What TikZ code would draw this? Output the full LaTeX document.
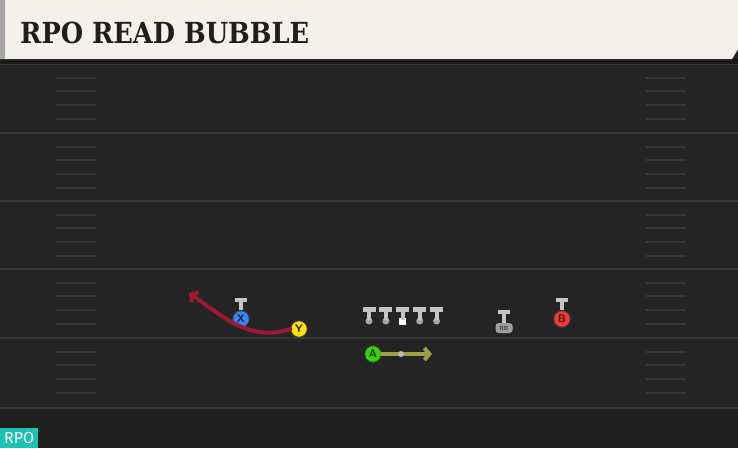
\documentclass[tikz,border=0pt]{standalone}
\usepackage{fontspec}
\usepackage{xcolor}
\usepackage{tikz}
\usetikzlibrary{arrows.meta, positioning, shapes}
\newfontfamily\titleFont{DejaVuSerif-Bold.ttf}[FakeStretch=0.885]
\newfontfamily\tagFont{Fira Sans}
\definecolor{fieldColor}{HTML}{242424}
\definecolor{endColor}{HTML}{1F1F1F}
\definecolor{yardColor}{HTML}{393939}
\definecolor{hashColor}{HTML}{363636}
\definecolor{bannerColor}{HTML}{F4F1EA}
\definecolor{capColor}{HTML}{C4C4C4}
\definecolor{routeRed}{HTML}{9B1B35}
\definecolor{routeOlive}{HTML}{A09C48}
\definecolor{tagColor}{HTML}{1DC2B2}

\begin{document}
\begin{tikzpicture}[x=1pt, y=-1pt,
        player/.style={circle, draw=black!75, line width=0.9pt, minimum size=16.5pt, inner sep=0pt, font=\sffamily\bfseries\fontsize{11}{11}\selectfont, text=black!85},
        olDot/.style={circle, fill=gray!70, minimum size=7pt, inner sep=0pt},
        route/.style={line width=4pt, line cap=round}]
    \useasboundingbox (0,0) rectangle (738,448);
    \fill[fieldColor] (0,0) rectangle (738,448);
    \fill[endColor] (0,408) rectangle (738,448);
    % yard lines and hashes
    \foreach \y in {64,133,201,269,338,408} {
        \draw[yardColor, line width=1.6pt] (0,\y) -- (738,\y);
    }
    \foreach \y in {64,133,201,269,338} {
        \foreach \d in {14,27,41,55} {
            \draw[hashColor, line width=1.5pt] (56,\y+\d) -- (96,\y+\d);
            \draw[hashColor, line width=1.5pt] (646,\y+\d) -- (686,\y+\d);
        }
    }
    % banner
    \fill[black!90] (0,59) rectangle (738,64);
    \fill[bannerColor] (0,0) -- (738,0) -- (738,49) -- (732,59) -- (0,59) -- cycle;
    \fill[gray!70] (0,0) rectangle (5,59);
    \node[anchor=base west, inner sep=0pt, font=\titleFont\fontsize{29}{29}\selectfont, text=black!88] (title) at (20,43) {RPO READ BUBBLE};

    % players
    \node[player, fill=blue!60!cyan!80!white] (X) at (241,319) {X};
    \node[player, fill=yellow!85!orange] (Y) at (299,329) {Y};
    \node[player, fill=green!70!lime!85!black] (A) at (373,354) {A};
    \node[player, fill=red!80!white] (B) at (562,319) {B};
    \foreach \p in {X,B} {
        \fill[capColor] ([shift={(-6,-12)}]\p.north) rectangle ([shift={(6,-8)}]\p.north);
        \fill[capColor] ([shift={(-2,-8)}]\p.north) rectangle ([shift={(2,0)}]\p.north);
    }
    % line
    \node[olDot] (ol1) at (369,321) {};
    \node[olDot, right=9.5pt of ol1] (ol2) {};
    \node[fill=white, minimum size=7pt, inner sep=0pt, right=9.5pt of ol2] (ol3) {};
    \node[olDot, right=9.5pt of ol3] (ol4) {};
    \node[olDot, right=9.5pt of ol4] (ol5) {};
    \foreach \i in {1,...,5} {
        \fill[capColor] ([shift={(-6.5,-14)}]ol\i.center) rectangle ([shift={(6.5,-9)}]ol\i.center);
        \fill[capColor] ([shift={(-2,-9)}]ol\i.center) rectangle ([shift={(2,-1)}]ol\i.center);
    }
    % back
    \node[fill=gray!75, rounded corners=3pt, minimum width=17pt, minimum height=10pt, inner sep=0pt, font=\sffamily\bfseries\fontsize{6}{6}\selectfont, text=black!80] (RB) at (504,328) {RB};
    \fill[capColor] ([shift={(-6,-13)}]RB.north) rectangle ([shift={(6,-9)}]RB.north);
    \fill[capColor] ([shift={(-2,-9)}]RB.north) rectangle ([shift={(2,0)}]RB.north);

    % routes
    \coordinate (yEnd) at (189,293);
    \draw[route, routeRed, -{Straight Barb[length=5pt, width=12pt]}] (Y.west) .. controls (250,342) and (225,318) .. (yEnd);
    \coordinate (aEnd) at (432,354);
    \draw[route, routeOlive, -{Straight Barb[length=5pt, width=12pt]}] (A.east) -- (aEnd);
    \node[circle, fill=gray!55, minimum size=6pt, inner sep=0pt] (aDot) at (401,354) {};

    \node[fill=tagColor, anchor=south west, minimum width=38pt, minimum height=20pt, inner sep=0pt, font=\tagFont\fontsize{16}{16}\selectfont, text=white] (tag) at (0,448) {RPO};
\end{tikzpicture}
\end{document}
